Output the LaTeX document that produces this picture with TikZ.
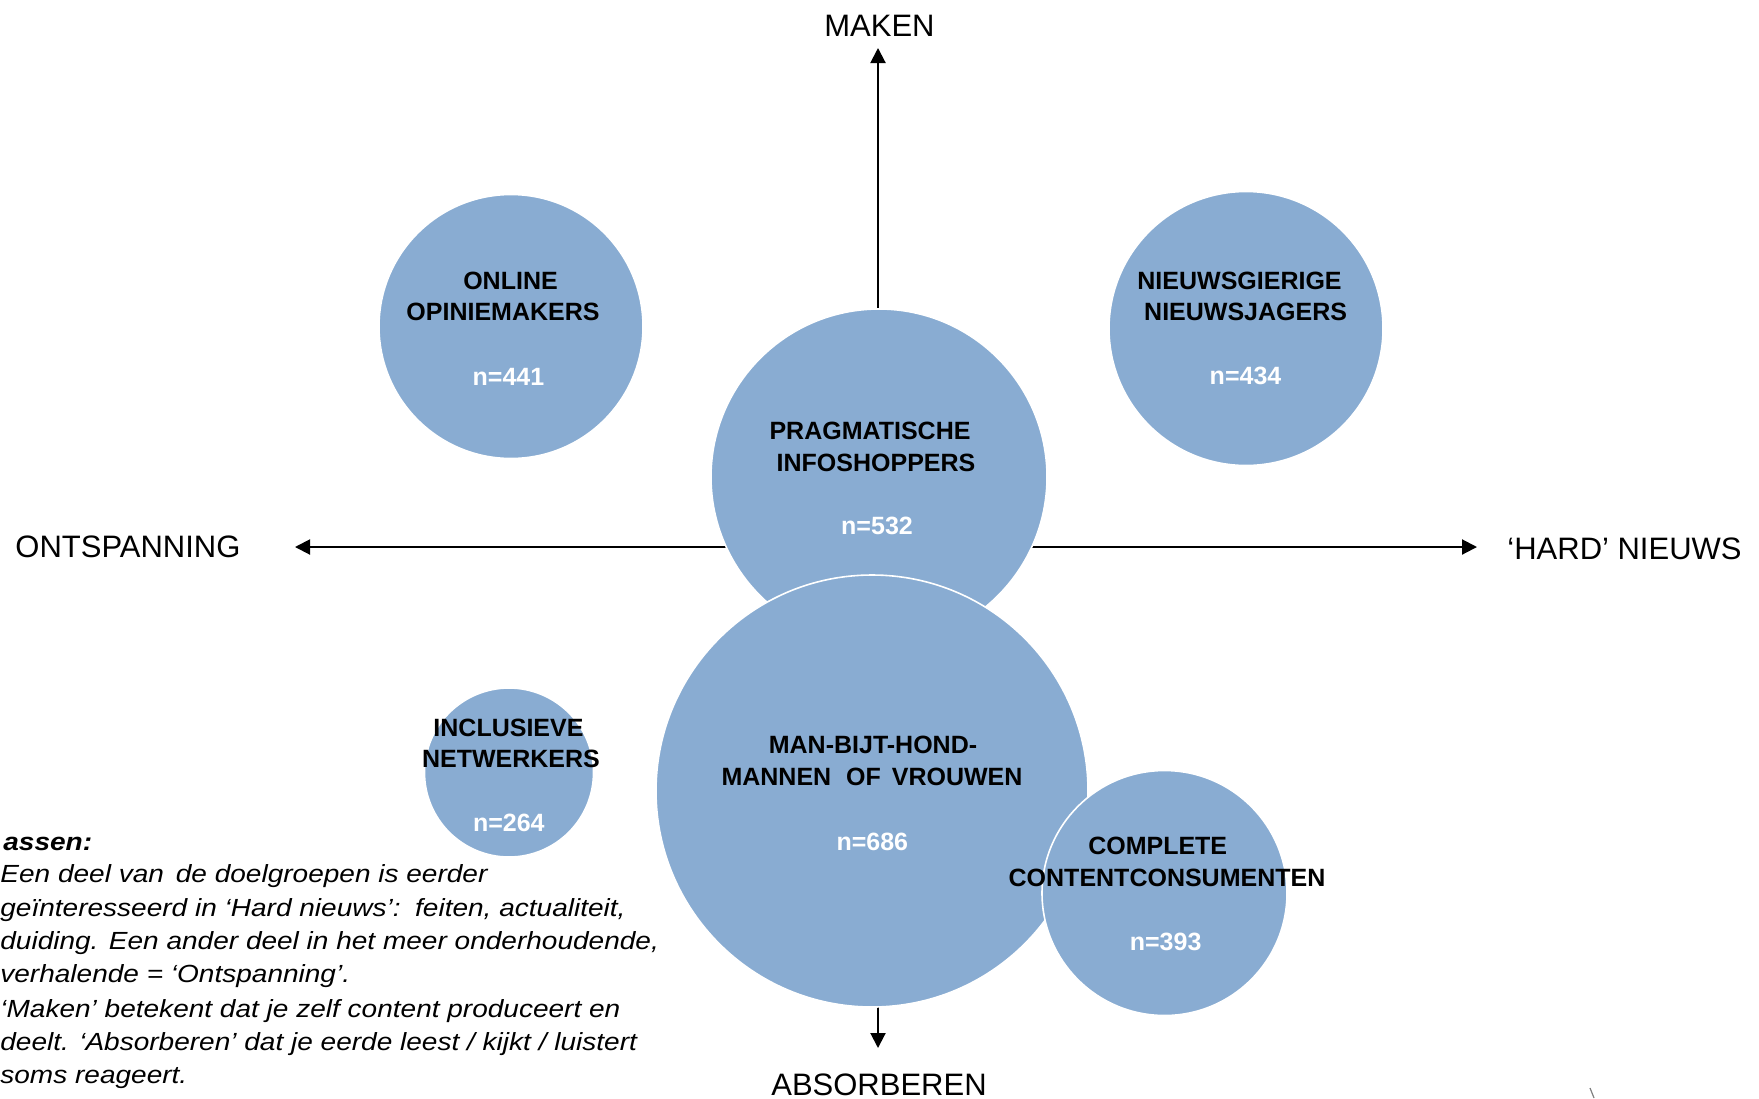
\documentclass[tikz,border=0pt]{standalone}
\usepackage{fontspec}
\setmainfont{Liberation Sans}
\newfontfamily\notefont[FakeStretch=1.13]{Liberation Sans}
\usetikzlibrary{arrows.meta}
\definecolor{bubblefill}{RGB}{137,172,210}
\begin{document}
\begin{tikzpicture}[x=0.5pt,y=-0.5pt,
  bubble/.style={circle,fill=bubblefill,draw=white,line width=0.8pt,inner sep=0pt,outer sep=0pt},
  ttl/.style={anchor=base,inner sep=0pt,font=\fontsize{12.5}{15}\selectfont\bfseries,text=black},
  cnt/.style={anchor=base,inner sep=0pt,font=\fontsize{12.5}{15}\selectfont\bfseries,text=white},
  axlab/.style={inner sep=0pt,font=\fontsize{15.5}{18}\selectfont},
  axisline/.style={line width=1pt,{Triangle[width=7.5pt,length=7.5pt]}-{Triangle[width=7.5pt,length=7.5pt]}},
  note/.style={anchor=base west,inner sep=0pt,font=\notefont\fontsize{12.4}{16}\selectfont\itshape}
]
\useasboundingbox (0,0) rectangle (1759,1098);

% axes
\coordinate (top) at (878,48);
\coordinate (bot) at (878,1048);
\coordinate (lft) at (295,547);
\coordinate (rgt) at (1477,547);
\draw[axisline] (bot) -- (top);
\draw[axisline] (lft) -- (rgt);

\node[axlab,anchor=base] (lmaken) at (879.5,36) {MAKEN};
\node[axlab,anchor=base west] (lont) at (15,557) {ONTSPANNING};
\node[axlab,anchor=base west] (lhard) at (1507,559) {‘HARD’ NIEUWS};
\node[axlab,anchor=base] (labs) at (879,1095) {ABSORBEREN};

% bubbles
\node[bubble,minimum size=132pt] (on) at (511,326.5) {};
\node[bubble,minimum size=137pt] (ng) at (1246,328.5) {};
\node[bubble,minimum size=84.5pt] (in) at (509,772.5) {};
\node[bubble,minimum size=168pt] (ps) at (879,477) {};
\node[bubble,minimum size=216pt] (mb) at (872,791) {};
\node[bubble,minimum size=122.5pt] (cc) at (1164.5,893) {};

% bubble texts
\node[ttl] (on1) at (510.5,289.3) {ONLINE};
\node[ttl] (on2) at (503,320) {OPINIEMAKERS};
\node[cnt] (onn) at (508.5,385) {n=441};

\node[ttl] (ng1) at (1239.5,289) {NIEUWSGIERIGE};
\node[ttl] (ng2) at (1245.6,320) {NIEUWSJAGERS};
\node[cnt] (ngn) at (1245.5,384) {n=434};

\node[ttl] (ps1) at (870,439.3) {PRAGMATISCHE};
\node[ttl] (ps2) at (876,471) {INFOSHOPPERS};
\node[cnt] (psn) at (877,534) {n=532};

\node[ttl] (mb1) at (873,753.3) {MAN-BIJT-HOND-};
\node[ttl] (mb2) at (872,785.7) {MANNEN\hspace{4pt} OF\hspace{2pt} VROUWEN};
\node[cnt] (mbn) at (872.3,850.7) {n=686};

\node[ttl] (cc1) at (1157.7,854) {COMPLETE};
\node[ttl] (cc2) at (1167,886) {CONTENTCONSUMENTEN};
\node[cnt] (ccn) at (1165.6,950) {n=393};

\node[ttl] (in1) at (508.5,736) {INCLUSIEVE};
\node[ttl] (in2) at (511,767.7) {NETWERKERS};
\node[cnt] (inn) at (508.8,831) {n=264};

% note
\node[note] (t1) at (3,850) {\bfseries assen:};
\node[note] (t2) at (0,882.7) {Een deel van\, de doelgroepen is eerder};
\node[note] (t3) at (0,916) {geïnteresseerd in ‘Hard nieuws’: \,feiten, actualiteit,};
\node[note] (t4) at (0,949) {duiding. Een ander deel in het meer onderhoudende,};
\node[note] (t5) at (0,982.7) {verhalende = ‘Ontspanning’.};
\node[note] (t6) at (0,1017) {‘Maken’ betekent dat je zelf content produceert en};
\node[note] (t7) at (0,1050.7) {deelt. ‘Absorberen’ dat je eerde leest / kijkt / luistert};
\node[note] (t8) at (0,1083) {soms reageert.};

% small mark bottom right
\draw[gray,line width=0.6pt] (1590,1088) -- (1594,1098);
\end{tikzpicture}
\end{document}
